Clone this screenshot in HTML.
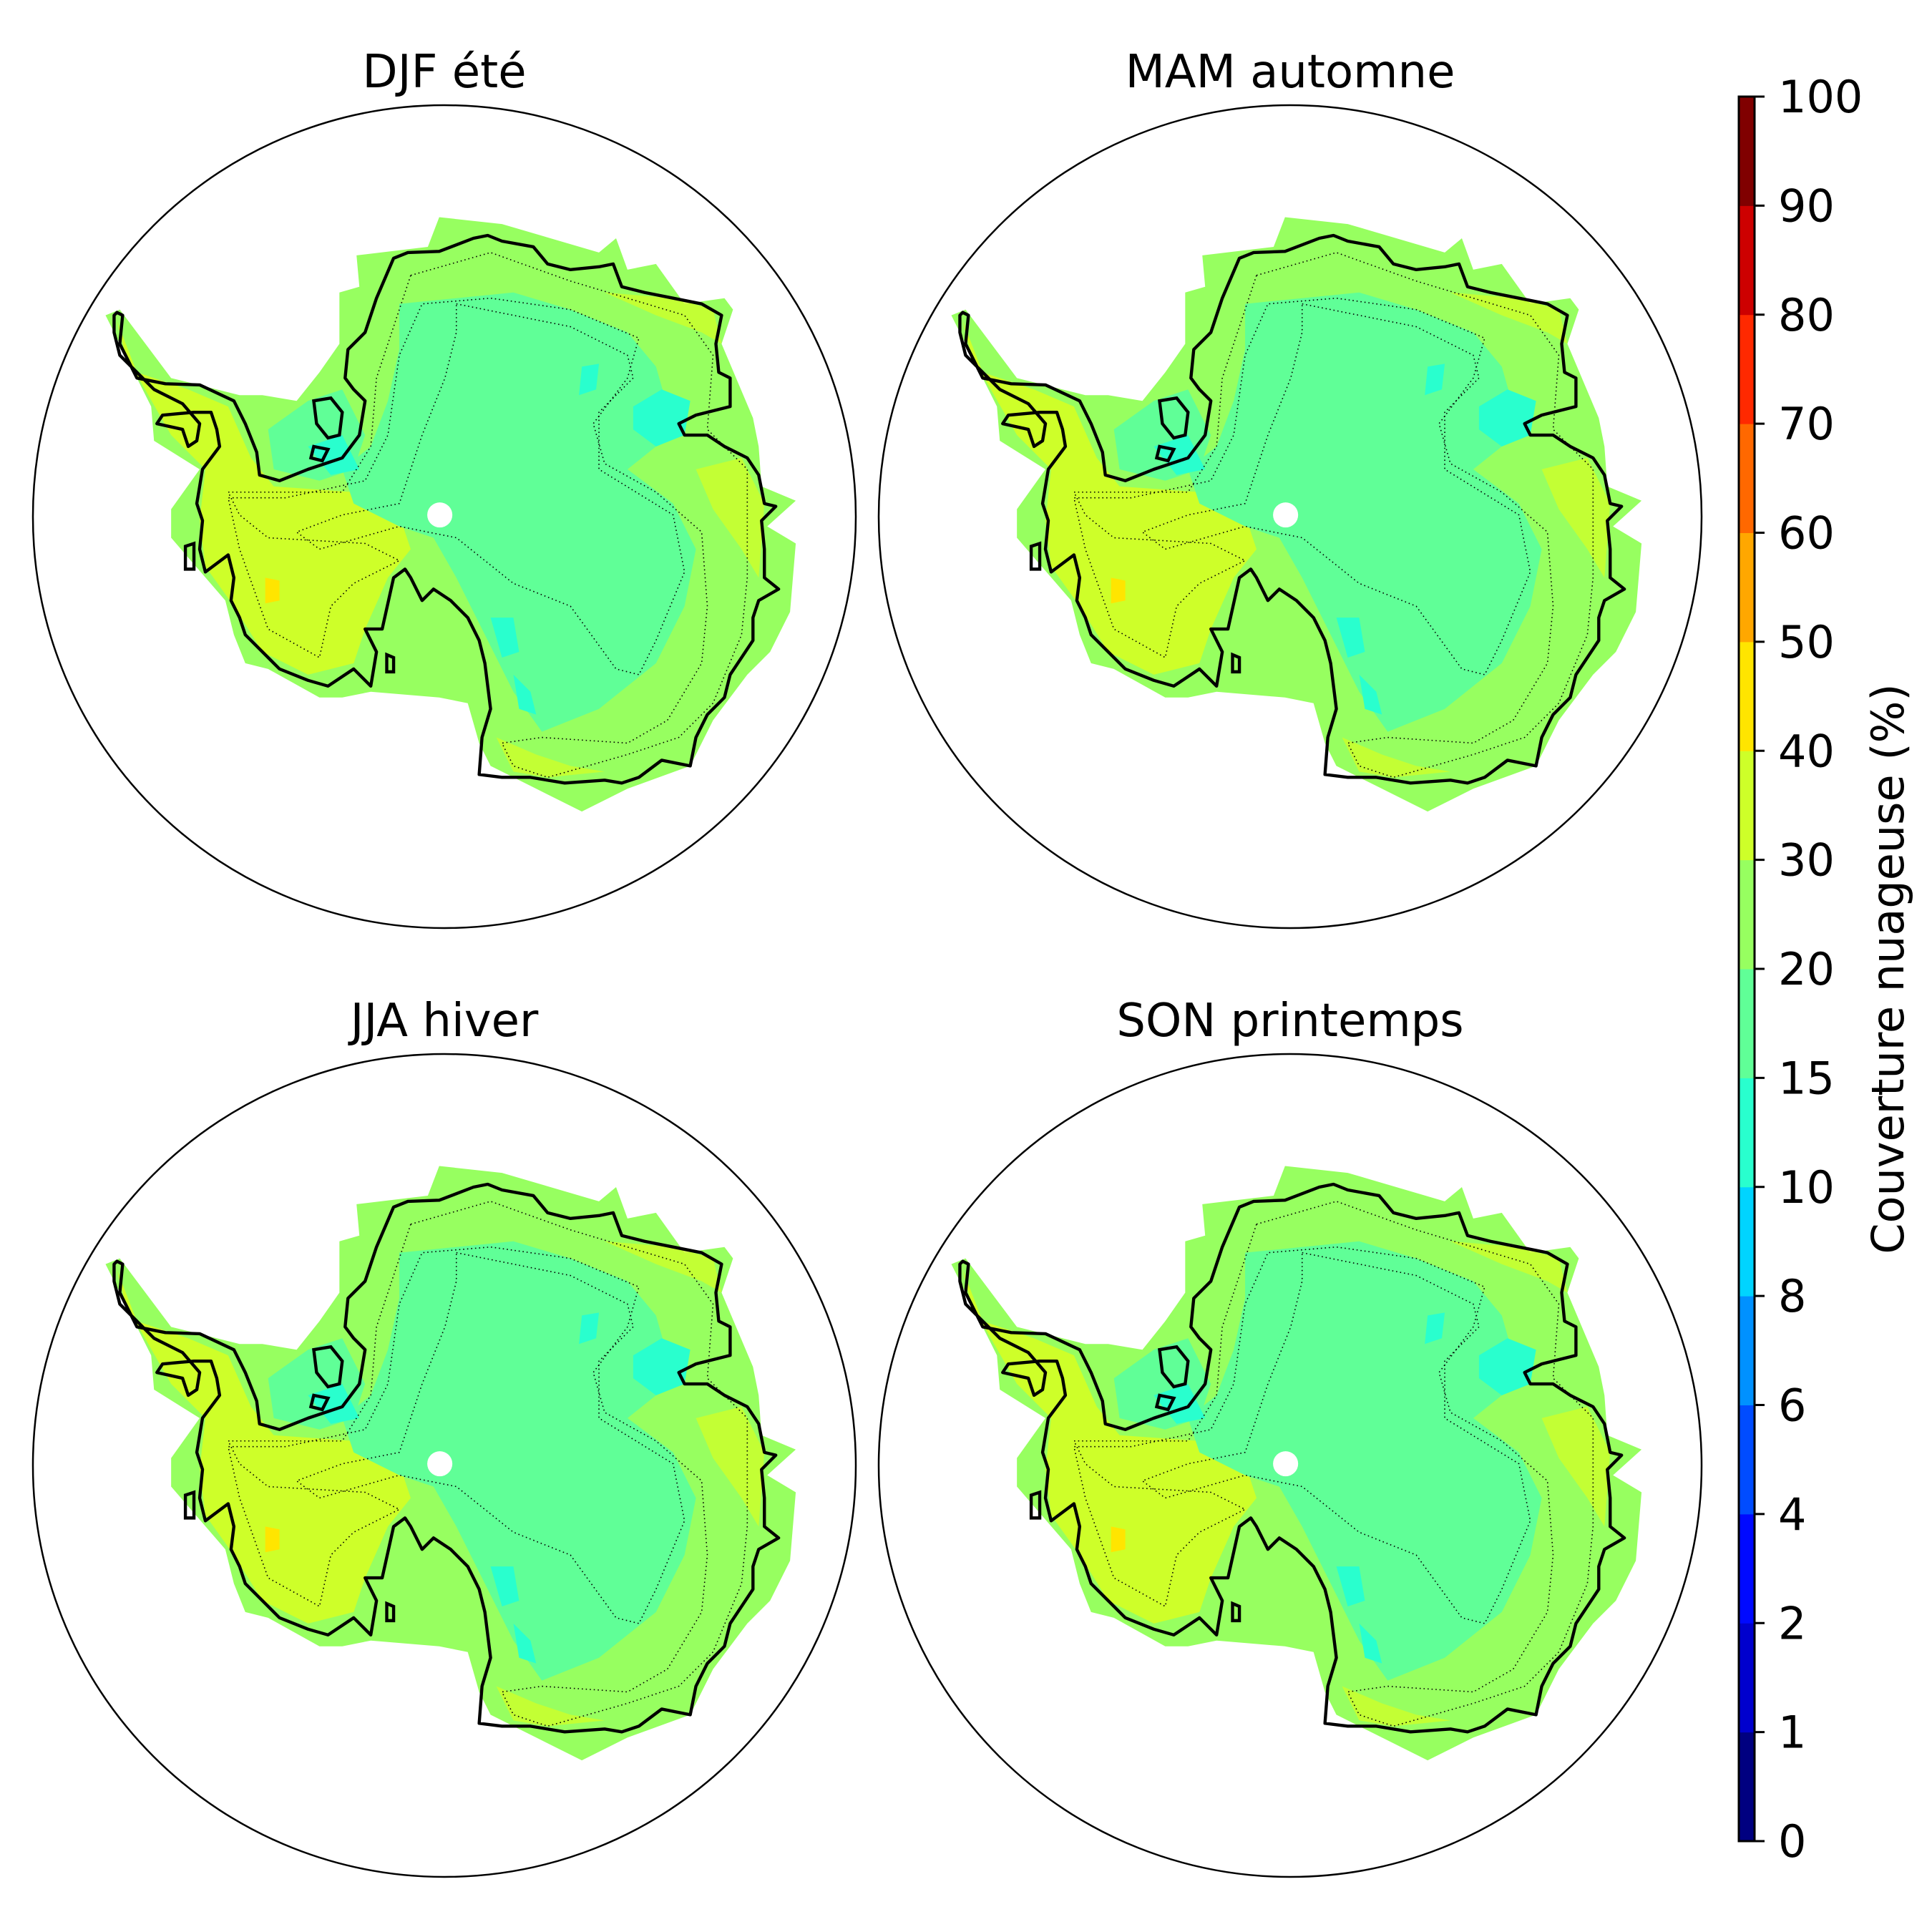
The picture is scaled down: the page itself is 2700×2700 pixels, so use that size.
<!DOCTYPE html>
<html><head><meta charset="utf-8">
<style>
html,body{margin:0;padding:0;background:#fff;}
svg{display:block;font-family:"DejaVu Sans","Liberation Sans",sans-serif;}
</style></head>
<body>
<svg id="fig" width="2700" height="2700" viewBox="0 0 2700 2700" xmlns="http://www.w3.org/2000/svg">
<defs>
<g id="ant">
 <polygon fill="#97ff60" points="185,490 210,480 300,600 420,630 460,630 520,640 560,590 595,540 595,450 630,440 625,385 750,370 770,318 880,330 1050,380 1080,355 1100,410 1150,400 1200,470 1270,460 1285,480 1265,540 1320,670 1330,720 1335,790 1395,815 1345,860 1395,890 1385,1010 1350,1080 1310,1120 1250,1200 1230,1240 1210,1280 1100,1320 1020,1360 940,1320 860,1280 840,1240 820,1170 770,1160 650,1150 600,1160 560,1160 470,1110 430,1100 410,1050 395,990 300,880 300,830 350,760 270,710 265,650"/>
 <polygon fill="#ceff29" points="205,500 240,590 330,620 400,650 440,740 480,790 620,800 700,840 720,900 680,950 640,1040 620,1100 540,1120 460,1080 410,1000 360,930 350,850 360,760 300,700 220,560"/>
 <polygon fill="#ceff29" opacity="0.8" points="1060,450 1180,460 1250,480 1265,540 1230,520 1150,490"/>
 <polygon fill="#ceff29" opacity="0.8" points="1220,760 1300,740 1340,820 1330,950 1300,900 1250,830"/>
 <polygon fill="#ceff29" opacity="0.8" points="870,1230 940,1260 1000,1280 1060,1290 960,1300 900,1290"/>
 <polygon fill="#60ff97" points="700,470 800,460 900,450 1000,480 1100,520 1150,580 1170,650 1150,720 1100,760 1180,820 1220,900 1200,1000 1150,1100 1050,1180 950,1220 900,1150 850,1050 800,950 760,880 700,860 620,820 600,760 650,720 680,640 700,550"/>
 <polygon fill="#60ff97" points="470,690 540,640 600,620 640,700 620,760 560,780 480,760"/>
 <polygon fill="#29ffce" points="1110,650 1160,620 1210,640 1200,700 1150,720 1110,690"/>
 <polygon fill="#29ffce" points="540,720 600,700 630,760 580,770"/>
 <polygon fill="#29ffce" points="860,1020 900,1020 910,1080 880,1090"/>
 <polygon fill="#29ffce" points="900,1120 930,1150 940,1190 910,1180"/>
 <polygon fill="#29ffce" points="1020,580 1050,575 1045,620 1015,630"/>
 <polygon fill="#ffe500" points="465,950 490,955 490,990 465,995"/>
 <polygon fill="none" stroke="#000" stroke-width="2" stroke-dasharray="2,5" points="800,470 1000,510 1100,560 1110,600 1050,660 1050,760 1180,840 1200,940 1150,1060 1120,1120 1080,1110 1000,1000 900,960 800,880 700,860 560,900 520,870 600,840 700,820 740,700 780,600 800,520"/>
 <polygon fill="none" stroke="#000" stroke-width="2" stroke-dasharray="2,5" points="720,420 860,380 1000,430 1200,490 1250,560 1240,690 1310,760 1310,950 1300,1050 1250,1170 1190,1230 1100,1260 960,1300 900,1280 880,1240 950,1230 1100,1240 1170,1200 1230,1100 1240,1000 1230,870 1150,800 1060,750 1040,680 1100,600 1120,530 1000,480 860,460 740,470 700,560 680,700 640,780 500,810 400,810 420,900 470,1040 560,1090 580,1000 620,960 700,920 640,890 470,880 420,840 400,800 600,800 650,720 660,600 700,480"/>
 <polygon fill="none" stroke="#000" stroke-width="5.5" stroke-linejoin="round" points="205,485 215,490 210,540 240,600 290,610 350,612 410,640 430,680 450,730 455,770 490,780 540,760 600,740 630,700 640,640 620,620 605,600 610,550 640,520 660,460 690,390 715,380 770,378 830,355 855,350 880,360 935,370 960,400 1000,410 1050,405 1075,400 1090,440 1130,450 1180,460 1230,470 1265,490 1255,540 1260,590 1280,600 1280,650 1220,665 1190,680 1200,700 1240,700 1270,720 1310,740 1330,770 1340,820 1360,825 1335,850 1340,900 1340,950 1365,970 1330,990 1320,1020 1320,1060 1300,1090 1280,1120 1270,1160 1240,1190 1220,1230 1210,1280 1160,1270 1120,1300 1090,1310 1060,1305 990,1310 930,1300 880,1300 840,1295 845,1230 860,1180 850,1100 840,1060 820,1020 790,990 760,970 740,990 720,950 710,935 690,950 670,1040 640,1040 660,1080 650,1140 620,1110 575,1140 540,1130 490,1110 460,1080 430,1050 420,1020 405,990 410,950 400,910 360,940 350,900 355,850 345,820 355,760 385,720 380,690 370,660 340,660 285,665 275,680 320,690 330,720 345,710 350,680 320,645 270,620 240,590 210,560 200,520 200,490"/>
 <polygon fill="none" stroke="#000" stroke-width="5.5" points="550,640 580,635 600,660 595,700 575,705 555,680"/>
 <polygon fill="none" stroke="#000" stroke-width="5.5" points="550,720 575,725 565,745 545,740"/>
 <polygon fill="none" stroke="#000" stroke-width="5.5" points="325,895 340,890 340,935 325,935"/>
 <polygon fill="none" stroke="#000" stroke-width="5.5" points="678,1085 690,1090 690,1115 678,1115"/>
 <circle cx="771" cy="840" r="22" fill="#fff"/>
</g>
</defs>
<g id="panels"></g>
<g id="cbar"></g>
</svg>
<script>
const levels = [0,1,2,4,6,8,10,15,20,30,40,50,60,70,80,90,100];
const levelColors = ["#000080","#0000cd","#0009ff","#004cff","#0091ff","#00d4ff","#29ffce","#60ff97","#97ff60","#ceff29","#ffe500","#ffa700","#ff6800","#ff2900","#cd0000","#800000"];
const panelTitles = ["DJF été","MAM automne","JJA hiver","SON printemps"];
const panelNames = ["djf","mam","jja","son"];

const NS="http://www.w3.org/2000/svg";
const panelsG=document.getElementById('panels');
const centers=[[621,722],[1803,722],[621,2048],[1803,2048]];
const R=575;
panelTitles.forEach((t,i)=>{
  const [cx,cy]=centers[i];
  const g=document.createElementNS(NS,'g');
  
  
  const u=document.createElementNS(NS,'use');
  u.setAttribute('href','#ant');
  u.setAttribute('transform',`translate(${cx-621},${cy-722}) translate(0,50) scale(${1/1.2544})`);
  
  
  g.appendChild(u);
  const c=document.createElementNS(NS,'circle');
  c.setAttribute('cx',cx);c.setAttribute('cy',cy);c.setAttribute('r',R);
  c.setAttribute('fill','none');c.setAttribute('stroke','#000');c.setAttribute('stroke-width','2.5');
  
  
  g.appendChild(c);
  const tx=document.createElementNS(NS,'text');
  tx.setAttribute('x',cx);tx.setAttribute('y',cy-R-25);
  tx.setAttribute('text-anchor','middle');tx.setAttribute('font-size','64');
  tx.textContent=t;
  
  
  g.appendChild(tx);
  panelsG.appendChild(g);
});

const cb=document.getElementById('cbar');
const cbX=2430, cbW=22, cbTop=135, cbBot=2573;
const nInt=levels.length-1;
function yOf(idx){return cbBot-(cbBot-cbTop)*idx/nInt;}
levelColors.forEach((col,i)=>{
  const r=document.createElementNS(NS,'rect');
  r.setAttribute('x',cbX);r.setAttribute('y',yOf(i+1));
  r.setAttribute('width',cbW);r.setAttribute('height',yOf(i)-yOf(i+1)+0.5);
  r.setAttribute('fill',col);
  
  
  cb.appendChild(r);
});
const frame=document.createElementNS(NS,'rect');
frame.setAttribute('x',cbX);frame.setAttribute('y',cbTop);frame.setAttribute('width',cbW);frame.setAttribute('height',cbBot-cbTop);
frame.setAttribute('fill','none');frame.setAttribute('stroke','#000');frame.setAttribute('stroke-width','3');


cb.appendChild(frame);
levels.forEach((v,i)=>{
  const y=yOf(i);
  const l=document.createElementNS(NS,'line');
  l.setAttribute('x1',cbX+cbW);l.setAttribute('x2',cbX+cbW+14);l.setAttribute('y1',y);l.setAttribute('y2',y);
  l.setAttribute('stroke','#000');l.setAttribute('stroke-width','3');
  
  
  cb.appendChild(l);
  const t=document.createElementNS(NS,'text');
  t.setAttribute('x',cbX+cbW+33);t.setAttribute('y',y+22);t.setAttribute('font-size','62');
  t.textContent=v;
  
  
  cb.appendChild(t);
});
const lab=document.createElementNS(NS,'text');
lab.setAttribute('transform',`translate(2660,${(cbTop+cbBot)/2}) rotate(-90)`);
lab.setAttribute('text-anchor','middle');lab.setAttribute('font-size','62');
lab.textContent='Couverture nuageuse (%)';


cb.appendChild(lab);
</script>
</body></html>
